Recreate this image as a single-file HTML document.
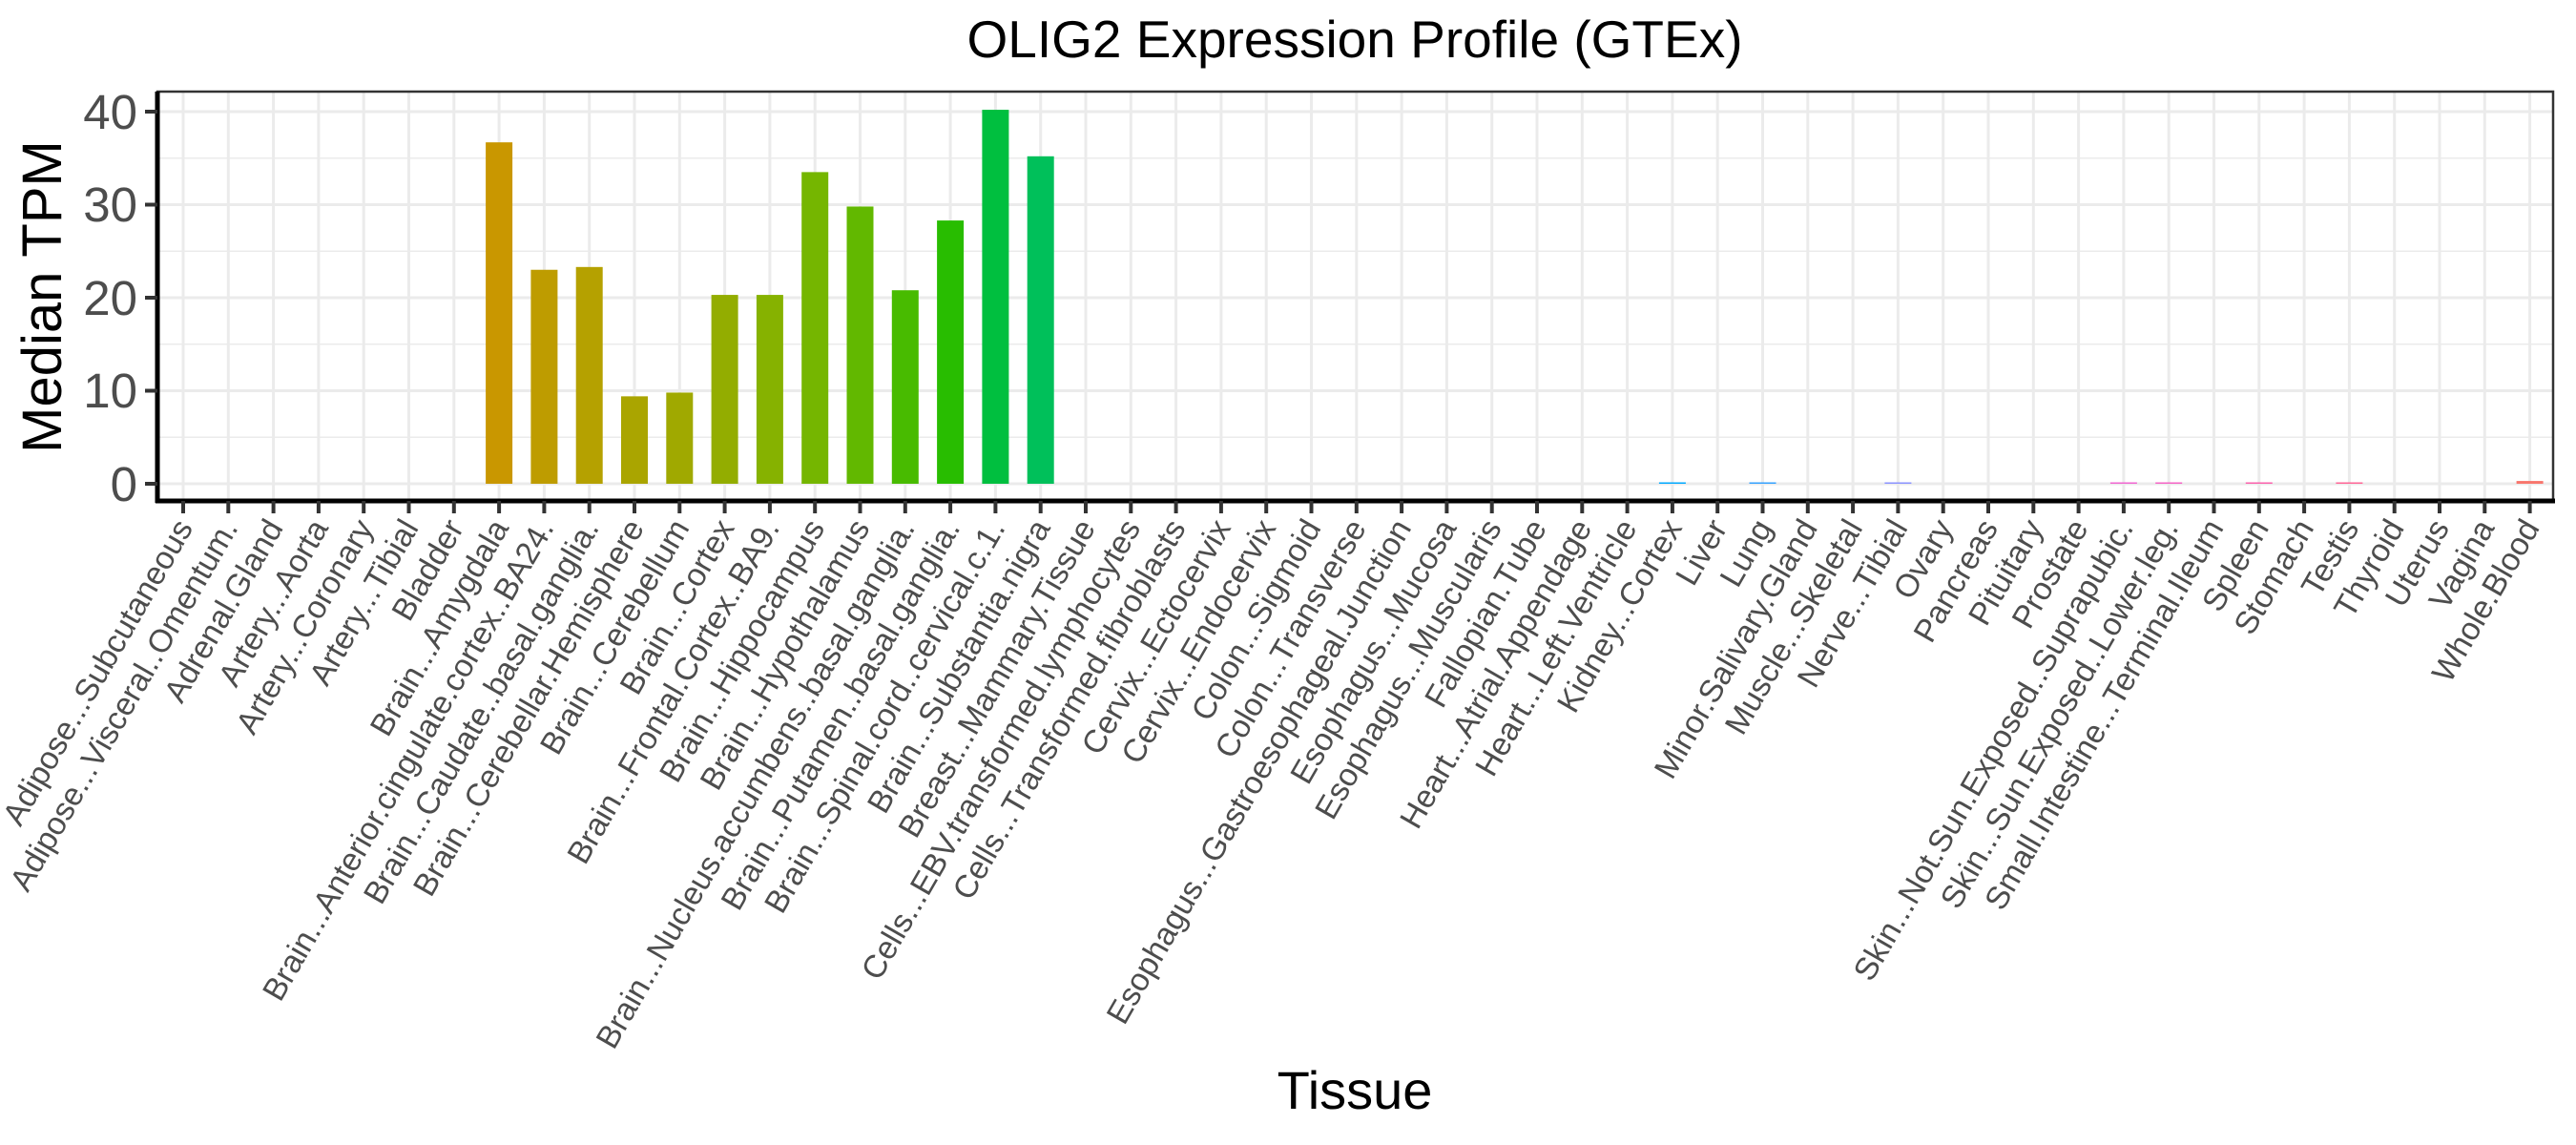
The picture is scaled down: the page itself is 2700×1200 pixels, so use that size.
<!DOCTYPE html>
<html><head><meta charset="utf-8"><style>body{margin:0;background:#fff}svg{display:block}</style></head>
<body>
<svg id="s" width="2700" height="1200" xmlns="http://www.w3.org/2000/svg" font-family="Liberation Sans, Arial, sans-serif">
<rect width="2700" height="1200" fill="#fff"/>
<g id="grid"></g>
<g id="bars"></g>
<rect x="165" y="96" width="2511" height="429" fill="none" stroke="#333" stroke-width="2.5"/>
<line x1="165" y1="96" x2="165" y2="527" stroke="#000" stroke-width="5"/>
<line x1="163" y1="525" x2="2678" y2="525" stroke="#000" stroke-width="5"/>
<g id="ticks"></g>
<g id="labels" fill="#4d4d4d" font-size="33.5"></g>
<g fill="#4d4d4d" font-size="51" text-anchor="end">
<text x="144" y="525">0</text><text x="144" y="427">10</text><text x="144" y="330">20</text><text x="144" y="232">30</text><text x="144" y="135">40</text>
</g>
<text x="1420" y="60" font-size="55" text-anchor="middle" fill="#000">OLIG2 Expression Profile (GTEx)</text>
<text x="1420" y="1162" font-size="56" text-anchor="middle" fill="#000">Tissue</text>
<text transform="translate(64,311) rotate(-90)" font-size="58" text-anchor="middle" fill="#000">Median TPM</text>
</svg>
<script>
const names=["Adipose...Subcutaneous","Adipose...Visceral..Omentum.","Adrenal.Gland","Artery...Aorta","Artery...Coronary","Artery...Tibial","Bladder","Brain...Amygdala","Brain...Anterior.cingulate.cortex..BA24.","Brain...Caudate..basal.ganglia.","Brain...Cerebellar.Hemisphere","Brain...Cerebellum","Brain...Cortex","Brain...Frontal.Cortex..BA9.","Brain...Hippocampus","Brain...Hypothalamus","Brain...Nucleus.accumbens..basal.ganglia.","Brain...Putamen..basal.ganglia.","Brain...Spinal.cord..cervical.c.1.","Brain...Substantia.nigra","Breast...Mammary.Tissue","Cells...EBV.transformed.lymphocytes","Cells...Transformed.fibroblasts","Cervix...Ectocervix","Cervix...Endocervix","Colon...Sigmoid","Colon...Transverse","Esophagus...Gastroesophageal.Junction","Esophagus...Mucosa","Esophagus...Muscularis","Fallopian.Tube","Heart...Atrial.Appendage","Heart...Left.Ventricle","Kidney...Cortex","Liver","Lung","Minor.Salivary.Gland","Muscle...Skeletal","Nerve...Tibial","Ovary","Pancreas","Pituitary","Prostate","Skin...Not.Sun.Exposed..Suprapubic.","Skin...Sun.Exposed..Lower.leg.","Small.Intestine...Terminal.Ileum","Spleen","Stomach","Testis","Thyroid","Uterus","Vagina","Whole.Blood"];
const vals={7:36.7,8:23,9:23.3,10:9.4,11:9.8,12:20.3,13:20.3,14:33.5,15:29.8,16:20.8,17:28.3,18:40.2,19:35.2,33:0.1,35:0.1,38:0.1,43:0.1,44:0.1,46:0.1,48:0.1,52:0.3};
const cols={7:"#C99700",8:"#BE9C00",9:"#B5A100",10:"#AAA500",11:"#A0A900",12:"#93AD00",13:"#86B200",14:"#75B600",15:"#62B800",16:"#48BB00",17:"#28BD00",18:"#00BF3F",19:"#00C05A",33:"#00A9FF",35:"#35A2FF",38:"#8B93FF",43:"#F066D0",44:"#F564C6",46:"#FB61AC",48:"#FF6596",52:"#F8766D"};
const NS="http://www.w3.org/2000/svg";
function el(p,t,a,txt){const e=document.createElementNS(NS,t);for(const k in a)e.setAttribute(k,a[k]);if(txt)e.textContent=txt;document.getElementById(p).appendChild(e);}
const y=v=>507-v*9.75, x=i=>192+i*47.3;
for(let v=5;v<45;v+=10)el("grid","line",{x1:165,x2:2676,y1:y(v),y2:y(v),stroke:"#ebebeb","stroke-width":1.5});
for(let v=0;v<=40;v+=10)el("grid","line",{x1:165,x2:2676,y1:y(v),y2:y(v),stroke:"#ebebeb","stroke-width":3});
for(let i=0;i<53;i++){el("grid","line",{x1:x(i),x2:x(i),y1:96,y2:525,stroke:"#ebebeb","stroke-width":3});
el("ticks","line",{x1:x(i),x2:x(i),y1:525,y2:538,stroke:"#333","stroke-width":4});
const t=document.createElementNS(NS,"text");t.setAttribute("text-anchor","end");t.setAttribute("transform",`translate(${x(i)+11},${553}) rotate(-60)`);t.textContent=names[i];document.getElementById("labels").appendChild(t);
if(vals[i]!==undefined){const h=Math.max(vals[i]*9.75,1.5);el("bars","rect",{x:x(i)-14,y:507-h,width:28,height:h,fill:cols[i]});}}
for(let v=0;v<=40;v+=10)el("ticks","line",{x1:152,x2:165,y1:y(v),y2:y(v),stroke:"#333","stroke-width":4});
</script>
</body></html>
